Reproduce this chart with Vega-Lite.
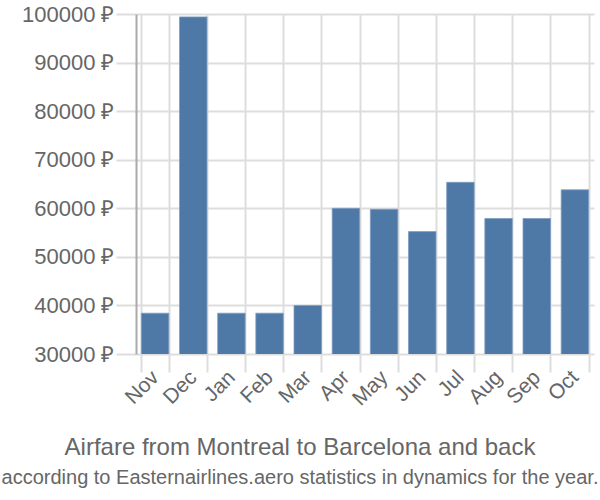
{
  "$schema": "https://vega.github.io/schema/vega-lite/v6.json",
  "width": 458,
  "height": 340,
  "autosize": "none",
  "padding": {"left": 136, "top": 14, "right": 6, "bottom": 146},
  "background": "white",
  "data": {"values": [
    {"month": "Nov", "price": 38400},
    {"month": "Dec", "price": 99400},
    {"month": "Jan", "price": 38400},
    {"month": "Feb", "price": 38400},
    {"month": "Mar", "price": 40000},
    {"month": "Apr", "price": 60000},
    {"month": "May", "price": 59800},
    {"month": "Jun", "price": 55200},
    {"month": "Jul", "price": 65350},
    {"month": "Aug", "price": 57900},
    {"month": "Sep", "price": 57900},
    {"month": "Oct", "price": 63800}
  ]},
  "title": {
    "text": "Airfare from Montreal to Barcelona and back",
    "subtitle": "according to Easternairlines.aero statistics in dynamics for the year.",
    "orient": "bottom",
    "anchor": "middle",
    "font": "Liberation Sans",
    "fontSize": 24,
    "fontWeight": "normal",
    "color": "#666666",
    "subtitleFont": "Liberation Sans",
    "subtitleFontSize": 20,
    "subtitleColor": "#666666",
    "subtitlePadding": 8,
    "offset": 27,
    "dx": -65
  },
  "mark": {"type": "bar", "color": "#4e79a7", "stroke": "#7f9dc2", "strokeWidth": 0.8, "clip": true},
  "encoding": {
    "x": {
      "field": "month", "type": "nominal", "sort": null,
      "scale": {"paddingInner": 0.28, "paddingOuter": 0.14},
      "axis": {
        "title": null, "labelAngle": -45, "labelAlign": "right", "labelBaseline": "middle",
        "labelFont": "Liberation Sans", "labelFontSize": 21, "labelColor": "#666666",
        "tickBand": "extent", "tickSize": 18, "tickColor": "#dddddd", "tickWidth": 2,
        "grid": true, "gridColor": "#dddddd", "gridWidth": 2,
        "domain": false, "labelPadding": 2
      }
    },
    "y": {
      "field": "price", "type": "quantitative",
      "scale": {"domain": [30000, 100000], "nice": false, "zero": false},
      "axis": {
        "title": null, "values": [30000, 40000, 50000, 60000, 70000, 80000, 90000, 100000],
        "labelExpr": "format(datum.value, 'd') + ' ₽'",
        "labelFont": "Liberation Sans", "labelFontSize": 22, "labelColor": "#666666",
        "tickSize": 20, "tickColor": "#dddddd", "tickWidth": 2,
        "gridColor": "#dddddd", "gridWidth": 2,
        "domainColor": "#aaaaaa", "domainWidth": 2, "labelPadding": 2
      }
    }
  },
  "config": {"view": {"stroke": null}}
}
